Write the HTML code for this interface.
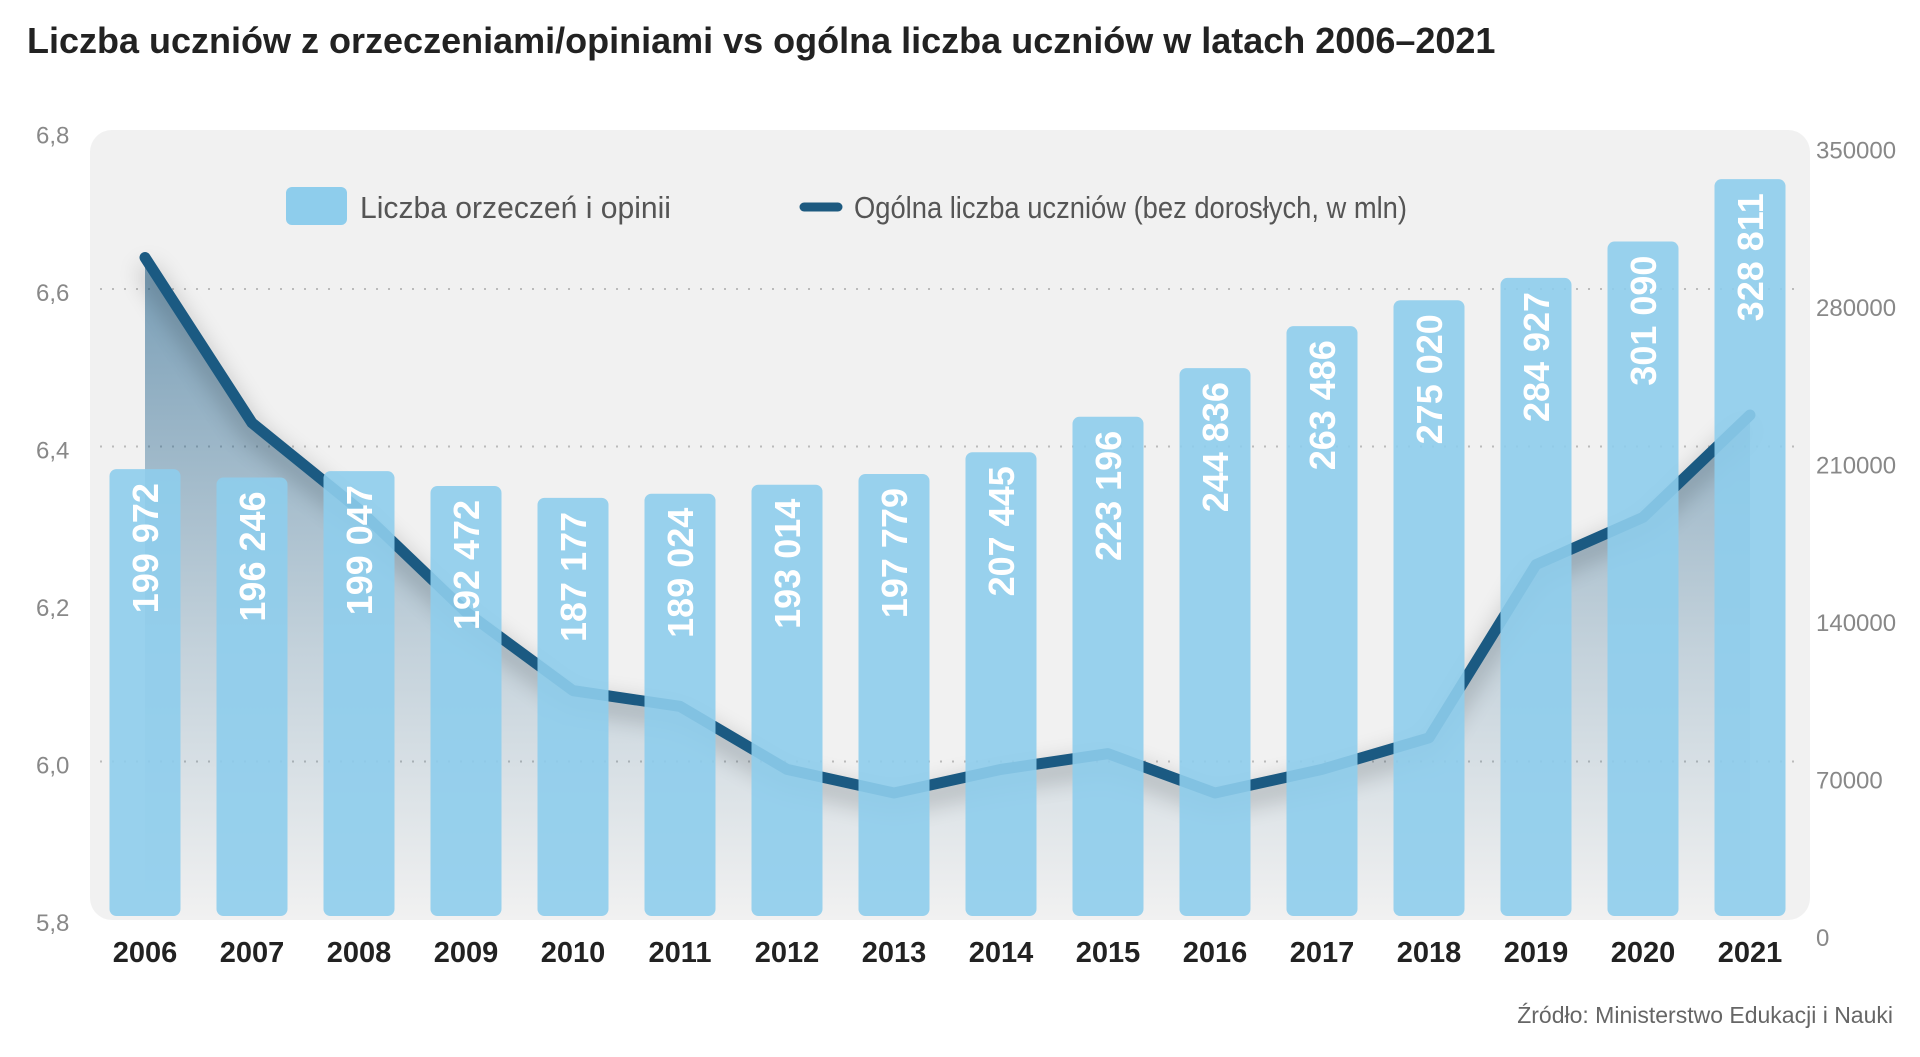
<!DOCTYPE html>
<html><head><meta charset="utf-8">
<style>
html,body{margin:0;padding:0;background:#fff;}
svg{display:block;font-family:"Liberation Sans Narrow","Liberation Sans",sans-serif;}
</style></head>
<body>
<svg id="chart" width="1920" height="1057" viewBox="0 0 1920 1057" xmlns="http://www.w3.org/2000/svg">
<defs>
<linearGradient id="areaGrad" x1="0" y1="0" x2="0" y2="1">
<stop offset="0" stop-color="#1d5f8a" stop-opacity="0.95"/>
<stop offset="0.6" stop-color="#1d5f8a" stop-opacity="0.35"/>
<stop offset="1" stop-color="#1d5f8a" stop-opacity="0"/>
</linearGradient>
<filter id="shadow" x="-10%" y="-10%" width="120%" height="130%"><feGaussianBlur stdDeviation="12"/></filter>
</defs>
<text x="27" y="53" font-family="Liberation Sans Narrow, Liberation Sans, sans-serif" font-weight="bold" font-size="36" fill="#222">Liczba uczniów z orzeczeniami/opiniami vs ogólna liczba uczniów w latach 2006–2021</text>
<rect x="90" y="130" width="1720" height="790" rx="22" fill="#f1f1f1"/>
<g id="grid"></g>
<g id="area"></g>
<g id="line"></g>
<g id="bars"></g>
<g id="axes"></g>
<g>
<rect x="286" y="187" width="61" height="38" rx="6" fill="#8ecdec"/>
<text x="360" y="218" font-size="31" fill="#555" textLength="311" lengthAdjust="spacingAndGlyphs">Liczba orzeczeń i opinii</text>
<line x1="804" y1="207" x2="838" y2="207" stroke="#1d5a80" stroke-width="9" stroke-linecap="round"/>
<text x="854" y="218" font-size="31" fill="#555" textLength="553" lengthAdjust="spacingAndGlyphs">Ogólna liczba uczniów (bez dorosłych, w mln)</text>
</g>
<text x="1893" y="1023" text-anchor="end" font-size="23" fill="#666">Źródło: Ministerstwo Edukacji i Nauki</text>
</svg>
<script>
const years = ["2006","2007","2008","2009","2010","2011","2012","2013","2014","2015","2016","2017","2018","2019","2020","2021"];
const certCounts = [199972,196246,199047,192472,187177,189024,193014,197779,207445,223196,244836,263486,275020,284927,301090,328811];
const certLabels = ["199 972","196 246","199 047","192 472","187 177","189 024","193 014","197 779","207 445","223 196","244 836","263 486","275 020","284 927","301 090","328 811"];
const students = [6.64,6.43,6.32,6.19,6.09,6.07,5.99,5.96,5.99,6.01,5.96,5.99,6.03,6.25,6.31,6.44];
const leftTicks = ["6,8","6,6","6,4","6,2","6,0","5,8"];
const leftTickVals = [6.8,6.6,6.4,6.2,6.0,5.8];
const rightTicks = ["350000","280000","210000","140000","70000","0"];
const rightTickVals = [350000,280000,210000,140000,70000,0];

const NS="http://www.w3.org/2000/svg";
const TOP=131.5, BOT=919;
function yL(v){return BOT-(v-5.8)/1.0*(BOT-TOP);}
function yR(v){return BOT-v/350000*(BOT-TOP);}
function xC(i){return 145+i*107;}
function mk(tag,attrs,parent){const e=document.createElementNS(NS,tag);for(const k in attrs)e.setAttribute(k,attrs[k]);parent.appendChild(e);return e;}

const grid=document.getElementById('grid');
const axes=document.getElementById('axes');
leftTickVals.forEach((v,i)=>{
  const y=yL(v);
  if(v>5.8 && v<6.8 && v!==6.2){
    const g=mk('line',{x1:100,x2:1800,y1:y,y2:y,stroke:'#bbb','stroke-width':2,'stroke-dasharray':'2 10'},grid);
    
    
  }
  const t=mk('text',{x:36,y:y+12,'font-size':24,fill:'#888'},axes);
  t.textContent=leftTicks[i];
  
  
});
rightTickVals.forEach((v,i)=>{
  const t=mk('text',{x:1816,y:yR(v)+27,'font-size':24,fill:'#888'},axes);
  t.textContent=rightTicks[i];
  
  
});

const pts=students.map((v,i)=>[xC(i),yL(v)]);
const area=document.getElementById('area');
let ad='M'+pts[0][0]+','+BOT+' '+pts.map(p=>'L'+p[0]+','+p[1]).join(' ')+' L'+pts[pts.length-1][0]+','+BOT+' Z';
const ap=mk('path',{d:ad,fill:'url(#areaGrad)',opacity:0.6},area);


const lineG=document.getElementById('line');
const ld='M'+pts.map(p=>p[0]+','+p[1]).join(' L');
const sh=mk('path',{d:ld,fill:'none',stroke:'#000','stroke-width':14,opacity:0.25,filter:'url(#shadow)',transform:'translate(0,10)'},lineG);


const lp=mk('path',{d:ld,fill:'none',stroke:'#1b5a82','stroke-width':11,'stroke-linejoin':'round','stroke-linecap':'round'},lineG);



const bars=document.getElementById('bars');
certCounts.forEach((v,i)=>{
  const x=xC(i)-35.5, y=yR(v);
  const r=mk('rect',{x:x,y:y,width:71,height:BOT-y-3,rx:7,fill:'#8ecdec','fill-opacity':0.9},bars);
  
  
  const t=mk('text',{x:0,y:0,'font-size':36,'font-weight':'bold',fill:'#fff','text-anchor':'end',transform:'translate('+(xC(i)+13)+','+(y+14)+') rotate(-90)'},bars);
  t.textContent=certLabels[i];
  
  
  const xl=mk('text',{x:xC(i),y:962,'font-size':29,'font-weight':'bold',fill:'#222','text-anchor':'middle'},axes);
  xl.textContent=years[i];
  
  
});
</script>
</body></html>
